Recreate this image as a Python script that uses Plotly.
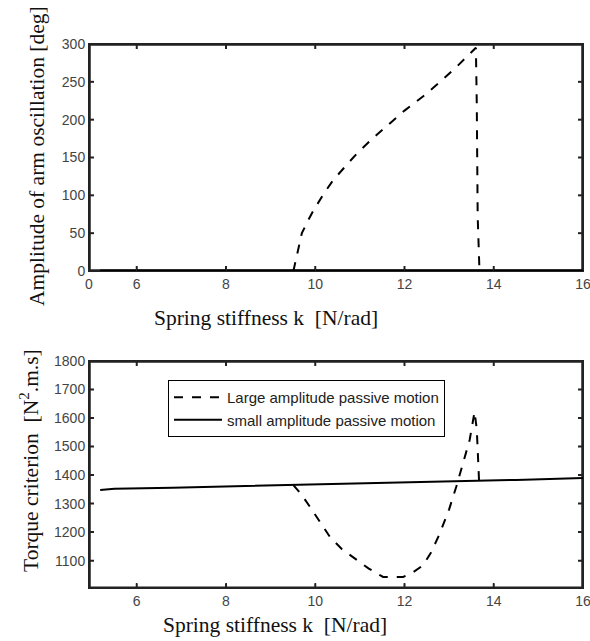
import plotly.graph_objects as go

# ---- data ----
top_large_k = [9.51, 9.6, 9.7, 9.85, 9.96, 10.2, 10.4, 10.7, 10.93, 11.3, 11.67, 12.0, 12.42, 12.8, 13.17, 13.54, 13.6, 13.62, 13.64, 13.68]
top_large_amp = [0, 25, 50, 68, 80, 103, 120, 140, 155, 176, 195, 212, 231, 250, 270, 292, 295, 219, 72, 0]
top_small_k = [5.18, 16]
top_small_amp = [0, 0]

bot_small_k = [5.18, 5.5, 6.8, 8, 9.5, 11, 12, 13.5, 14.5, 16]
bot_small_j = [1348, 1352, 1356, 1360, 1365, 1369, 1373, 1379, 1383, 1390]
bot_large_k = [9.51, 9.7, 9.88, 10.1, 10.33, 10.6, 10.93, 11.2, 11.45, 11.52, 11.97, 12.2, 12.42, 12.6, 12.79, 13.0, 13.16, 13.3, 13.46, 13.57, 13.62, 13.67]
bot_large_j = [1365, 1330, 1289, 1235, 1183, 1140, 1102, 1072, 1049, 1043, 1043, 1060, 1084, 1130, 1195, 1280, 1359, 1440, 1523, 1622, 1560, 1382]

top_xtick_vals = [4.93, 6, 8, 10, 12, 14, 16]
top_xtick_text = ["0", "6", "8", "10", "12", "14", "16"]
top_ytick_vals = [0, 50, 100, 150, 200, 250, 300]
bot_xtick_vals = [6, 8, 10, 12, 14, 16]
bot_ytick_vals = [1100, 1200, 1300, 1400, 1500, 1600, 1700, 1800]

x_range = [4.93, 16]
top_y_range = [0, 300]
bot_y_range = [1003, 1800]

legend_names = ["Large amplitude passive motion", "small amplitude passive motion"]

W, H = 590, 641
PLOT_W = 494.0     # plot-area width in px
PLOT_H = 227.0     # plot-area height in px
TICK_PX = 5.0
FRAME_COLOR = "#222"

xdom = [89 / W, 583 / W]
top_dom = [1 - 271 / H, 1 - 44 / H]
bot_dom = [1 - 588.3 / H, 1 - 361 / H]

fig = go.Figure()
dash_line = dict(color="black", width=2, dash="dash")
solid_line = dict(color="black", width=2)


def add_frame(xa, ya, yr, xticks, yticks):
    """Box and inward tick marks (MATLAB style) drawn as helper traces."""
    x0, x1 = x_range
    y0, y1 = yr
    fx = [x0, x1, x1, x0, x0]
    fy = [y0, y0, y1, y1, y0]
    fig.add_trace(go.Scatter(x=fx, y=fy, mode="lines", line=dict(color=FRAME_COLOR, width=3.5),
                             showlegend=False, hoverinfo="skip", xaxis=xa, yaxis=ya))
    ly = (y1 - y0) / PLOT_H * TICK_PX
    lx = (x1 - x0) / PLOT_W * TICK_PX
    tx, ty = [], []
    for v in xticks:
        if x0 < v < x1:
            tx += [v, v, None, v, v, None]
            ty += [y0, y0 + ly, None, y1, y1 - ly, None]
    for v in yticks:
        if y0 < v < y1:
            tx += [x0, x0 + lx, None, x1, x1 - lx, None]
            ty += [v, v, None, v, v, None]
    fig.add_trace(go.Scatter(x=tx, y=ty, mode="lines", line=dict(color=FRAME_COLOR, width=2),
                             showlegend=False, hoverinfo="skip", xaxis=xa, yaxis=ya))


add_frame("x", "y", top_y_range, top_xtick_vals, top_ytick_vals)
add_frame("x2", "y2", bot_y_range, bot_xtick_vals, bot_ytick_vals)

fig.add_trace(go.Scatter(x=top_small_k, y=top_small_amp, mode="lines", line=dict(color="black", width=3),
                         showlegend=False, xaxis="x", yaxis="y"))
fig.add_trace(go.Scatter(x=top_large_k, y=top_large_amp, mode="lines", line=dash_line,
                         showlegend=False, xaxis="x", yaxis="y"))
fig.add_trace(go.Scatter(x=bot_large_k, y=bot_large_j, mode="lines", line=dash_line,
                         name=legend_names[0], xaxis="x2", yaxis="y2"))
fig.add_trace(go.Scatter(x=bot_small_k, y=bot_small_j, mode="lines", line=solid_line,
                         name=legend_names[1], xaxis="x2", yaxis="y2"))

tickfont = dict(family="Liberation Sans, Arial, sans-serif", size=14, color="#444")
axcommon = dict(showline=True, linecolor=FRAME_COLOR, linewidth=1, mirror="ticks", ticks="inside",
                ticklen=5, tickcolor=FRAME_COLOR, tickwidth=1, showgrid=False, zeroline=False,
                tickfont=tickfont, automargin=False, ticklabeloverflow="allow")

fig.update_layout(
    template="none",
    width=W, height=H,
    margin=dict(l=0, r=0, t=0, b=0, pad=0),
    paper_bgcolor="white", plot_bgcolor="white",
    xaxis=dict(domain=xdom, anchor="y", range=x_range, tickmode="array",
               tickvals=top_xtick_vals, ticktext=top_xtick_text, **axcommon),
    yaxis=dict(domain=top_dom, anchor="x", range=top_y_range, tickmode="array",
               tickvals=top_ytick_vals, **axcommon),
    xaxis2=dict(domain=xdom, anchor="y2", range=x_range, tickmode="array",
                tickvals=bot_xtick_vals, **axcommon),
    yaxis2=dict(domain=bot_dom, anchor="x2", range=bot_y_range, tickmode="array",
                tickvals=bot_ytick_vals, **axcommon),
    legend=dict(x=168 / W, y=1 - 380 / H, xanchor="left", yanchor="top",
                bgcolor="white", bordercolor="black", borderwidth=1,
                font=dict(family="Liberation Sans, Arial, sans-serif", size=15, color="#222"),
                tracegroupgap=0, itemwidth=48),
    showlegend=True,
)

serif = dict(family="Liberation Serif, Times New Roman, serif", size=21.5, color="#111")
fig.add_annotation(text="Spring stiffness k  [N/rad]", x=266 / W, y=1 - 318 / H, xref="paper", yref="paper",
                   showarrow=False, font=serif, xanchor="center", yanchor="middle")
fig.add_annotation(text="Spring stiffness k  [N/rad]", x=275 / W, y=1 - 625 / H, xref="paper", yref="paper",
                   showarrow=False, font=serif, xanchor="center", yanchor="middle")
fig.add_annotation(text="Amplitude of arm oscillation [deg]", x=37 / W, y=1 - 156 / H, xref="paper", yref="paper",
                   showarrow=False, font=serif, textangle=-90, xanchor="center", yanchor="middle")
fig.add_annotation(text="Torque criterion  [N<sup>2</sup>.m.s]", x=29 / W, y=1 - 461 / H, xref="paper", yref="paper",
                   showarrow=False, font=serif, textangle=-90, xanchor="center", yanchor="middle")

fig.write_html("out.html", config={"displayModeBar": False},
               post_script="document.body.style.margin='0';")
